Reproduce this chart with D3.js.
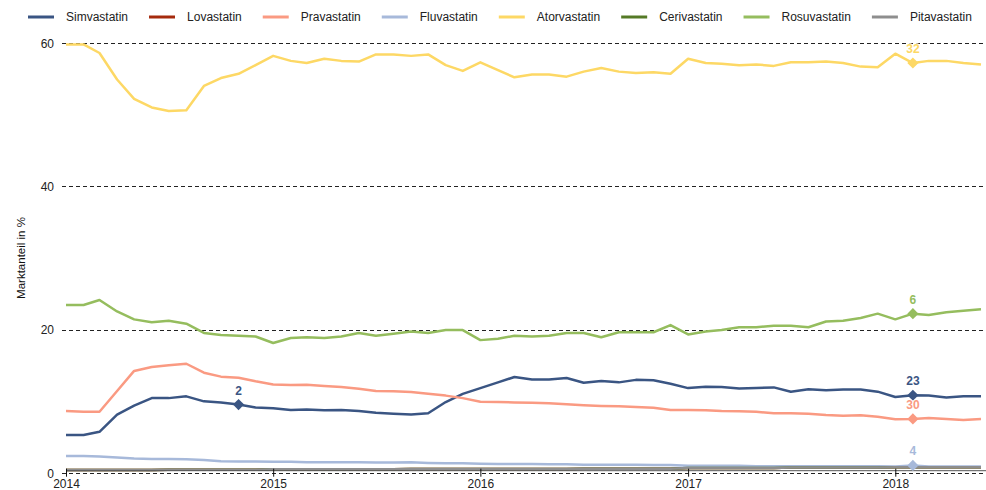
<!DOCTYPE html>
<html>
<head>
<meta charset="utf-8">
<script src="https://cdn.jsdelivr.net/npm/d3@7"></script>
<style>
  body { margin: 0; background: #fff; }
  text { font-family: "Liberation Sans", Arial, Helvetica, sans-serif; }
</style>
</head>
<body>
<svg id="chart" width="986" height="490"></svg>
<script>
// Monthly market share of statins (percent), Jan 2014 – Jun 2018
const months = d3.timeMonth.range(new Date(2014, 0, 1), new Date(2018, 6, 1));

const seriesNames = ["Simvastatin", "Lovastatin", "Pravastatin", "Fluvastatin",
                     "Atorvastatin", "Cerivastatin", "Rosuvastatin", "Pitavastatin"];
const seriesColors = ["#3a5583", "#a52a0d", "#fa9a82", "#a7b9da",
                      "#fdd865", "#557a26", "#95bd5e", "#8e8e8e"];

const simvastatin = [5.35, 5.35, 5.8, 8.2, 9.45, 10.5, 10.5, 10.75, 10.05, 9.9, 9.6, 9.2,
  9.1, 8.85, 8.9, 8.8, 8.85, 8.7, 8.47, 8.33, 8.2, 8.38, 9.95, 11.1,
  11.9, 12.7, 13.45, 13.1, 13.1, 13.3, 12.65, 12.9, 12.7, 13.05, 13.0, 12.5,
  11.9, 12.1, 12.05, 11.85, 11.9, 12.0, 11.4, 11.75, 11.6, 11.7, 11.7, 11.4,
  10.65, 10.9, 10.85, 10.6, 10.75, 10.75];
const lovastatin = [0.45, 0.45, 0.45, 0.45, 0.45, 0.45, 0.5, 0.5, 0.5, 0.5, 0.5, 0.5,
  0.55, 0.55, 0.55, 0.55, 0.55, 0.55, 0.55, 0.55, 0.6, 0.6, 0.6, 0.6,
  0.6, 0.6, 0.6, 0.6, 0.6, 0.6, 0.65, 0.65, 0.65, 0.65, 0.65, 0.65,
  0.75, 0.75, 0.75, 0.75, 0.75, 0.75, 0.8, 0.8, 0.8, 0.8, 0.8, 0.8,
  0.85, 0.85, 0.85, 0.85, 0.85, 0.85];
const pravastatin = [8.7, 8.6, 8.6, 11.5, 14.3, 14.85, 15.1, 15.3, 14.05, 13.5, 13.35, 12.85,
  12.4, 12.33, 12.37, 12.2, 12.05, 11.8, 11.5, 11.45, 11.35, 11.1, 10.85, 10.5,
  10.0, 9.96, 9.9, 9.86, 9.8, 9.63, 9.5, 9.4, 9.35, 9.26, 9.17, 8.84,
  8.84, 8.8, 8.7, 8.65, 8.6, 8.38, 8.38, 8.33, 8.15, 8.05, 8.1, 7.9,
  7.55, 7.6, 7.72, 7.6, 7.45, 7.6];
const fluvastatin = [2.4, 2.4, 2.35, 2.2, 2.05, 2.0, 2.0, 1.95, 1.85, 1.7, 1.65, 1.65,
  1.6, 1.6, 1.55, 1.55, 1.55, 1.55, 1.5, 1.5, 1.55, 1.45, 1.4, 1.4,
  1.35, 1.3, 1.3, 1.3, 1.25, 1.25, 1.2, 1.2, 1.2, 1.2, 1.15, 1.15,
  1.05, 1.05, 1.05, 1.05, 1.0, 1.0, 1.0, 1.0, 1.0, 1.0, 1.0, 1.0,
  0.95, 1.1, 0.95, 0.95, 0.95, 0.95];
const atorvastatin = [59.9, 59.9, 58.7, 55.0, 52.3, 51.1, 50.6, 50.7, 54.1, 55.2, 55.8, 57.0,
  58.3, 57.6, 57.3, 57.9, 57.6, 57.5, 58.5, 58.5, 58.3, 58.5, 57.0, 56.2,
  57.4, 56.3, 55.3, 55.7, 55.7, 55.4, 56.1, 56.6, 56.1, 55.9, 56.0, 55.8,
  57.9, 57.3, 57.2, 57.0, 57.1, 56.9, 57.4, 57.4, 57.5, 57.3, 56.8, 56.7,
  58.6, 57.3, 57.6, 57.6, 57.3, 57.1];
const cerivastatin = [0.45, 0.45, 0.45, 0.45, 0.45, 0.45, 0.5, 0.5, 0.5, 0.5, 0.5, 0.5,
  0.55, 0.55, 0.55, 0.55, 0.55, 0.55, 0.55, 0.55, 0.6, 0.6, 0.6, 0.6,
  0.6, 0.6, 0.6, 0.6, 0.6, 0.6, 0.65, 0.65, 0.65, 0.65, 0.65, 0.65,
  0.75, 0.75, 0.75, 0.75, 0.75, 0.75, 0.8, 0.8, 0.8, 0.8, 0.8, 0.8,
  0.85, 0.85, 0.85, 0.85, 0.85, 0.85];
const rosuvastatin = [23.5, 23.5, 24.2, 22.6, 21.5, 21.1, 21.3, 20.9, 19.6, 19.3, 19.2, 19.1,
  18.2, 18.9, 19.0, 18.9, 19.1, 19.6, 19.2, 19.5, 19.8, 19.6, 20.0, 20.0,
  18.6, 18.8, 19.2, 19.1, 19.2, 19.6, 19.6, 19.0, 19.7, 19.7, 19.7, 20.7,
  19.4, 19.8, 20.0, 20.4, 20.4, 20.6, 20.6, 20.4, 21.2, 21.3, 21.7, 22.3,
  21.5, 22.3, 22.1, 22.5, 22.7, 22.9];
const pitavastatin = [0.45, 0.45, 0.45, 0.45, 0.45, 0.45, 0.5, 0.5, 0.5, 0.5, 0.5, 0.5,
  0.55, 0.55, 0.55, 0.55, 0.55, 0.55, 0.55, 0.55, 0.6, 0.6, 0.6, 0.6,
  0.6, 0.6, 0.6, 0.6, 0.6, 0.6, 0.65, 0.65, 0.65, 0.65, 0.65, 0.65,
  0.75, 0.75, 0.75, 0.75, 0.75, 0.75, 0.8, 0.8, 0.8, 0.8, 0.8, 0.8,
  0.85, 0.85, 0.85, 0.85, 0.85, 0.85];

const seriesValues = [simvastatin, lovastatin, pravastatin, fluvastatin,
                      atorvastatin, cerivastatin, rosuvastatin, pitavastatin];

const yTicks = [0, 20, 40, 60];
const yearTicks = [2014, 2015, 2016, 2017, 2018];

// Highlighted data points with their annotation labels
const markerSeries = ["Simvastatin", "Atorvastatin", "Rosuvastatin", "Simvastatin", "Pravastatin", "Fluvastatin"];
const markerMonth  = [10, 49, 49, 49, 49, 49];
const markerLabels = ["2", "32", "6", "23", "30", "4"];

const yTitle = "Marktanteil in %";

// ---- drawing ----
const W = 986, H = 490;
const svg = d3.select("#chart");

const x = d3.scaleTime()
  .domain([months[0], months[months.length - 1]])
  .range([66, 981]);
const y = d3.scaleLinear().domain([0, 60]).range([473.3, 43.7]);

const gridLeft = 62, gridRight = W;

// dashed horizontal gridlines
const grid = svg.append("g");
grid.selectAll("line").data(yTicks).join("line")
  .attr("x1", gridLeft).attr("x2", gridRight)
  .attr("y1", d => y(d)).attr("y2", d => y(d))
  .attr("stroke", "#222").attr("stroke-width", 1)
  .attr("stroke-dasharray", "4,3")
  .attr("shape-rendering", "crispEdges");

// y tick labels
svg.append("g").selectAll("text").data(yTicks).join("text")
  .attr("x", 54).attr("y", d => y(d))
  .attr("dy", "0.35em")
  .attr("text-anchor", "end")
  .attr("font-size", 12).attr("fill", "#222")
  .text(d => d);

// y axis title
svg.append("text")
  .attr("transform", `translate(21,258) rotate(-90)`)
  .attr("text-anchor", "middle")
  .attr("dy", "0.35em")
  .attr("font-size", 11.5).attr("fill", "#111")
  .text(yTitle);

// series lines
const line = d3.line()
  .defined(d => d != null)
  .x((d, i) => x(months[i]))
  .y(d => y(d));

svg.append("g").selectAll("path").data(seriesValues).join("path")
  .attr("d", d => line(d))
  .attr("fill", "none")
  .attr("stroke", (d, i) => seriesColors[i])
  .attr("stroke-width", 2.5)
  .attr("stroke-linejoin", "round");

// x axis
const axisY = y(0) - 2.6;
const xAxis = d3.axisBottom(x)
  .tickValues(yearTicks.map(yr => new Date(yr, 0, 1)))
  .tickFormat(d3.timeFormat("%Y"))
  .tickSizeInner(6).tickSizeOuter(0).tickPadding(3);
const gx = svg.append("g").attr("transform", `translate(0,${axisY})`).call(xAxis);
gx.select(".domain").attr("stroke", "#555").attr("d", `M${x(months[0])},0H${gridRight}`);
gx.selectAll(".tick line").attr("stroke", "#111").attr("y1", -2);
gx.selectAll(".tick text").attr("font-size", 12).attr("fill", "#222")
  .attr("font-family", '"Liberation Sans", Arial, sans-serif');

// highlighted markers with labels
const markers = markerSeries.map((s, k) => {
  const si = seriesNames.indexOf(s);
  const mi = markerMonth[k];
  return { color: seriesColors[si], xv: x(months[mi]), yv: y(seriesValues[si][mi]), label: markerLabels[k] };
});
const mg = svg.append("g");
mg.selectAll("path").data(markers).join("path")
  .attr("d", d3.symbol(d3.symbolSquare, 62)())
  .attr("transform", d => `translate(${d.xv},${d.yv}) rotate(45)`)
  .attr("fill", d => d.color);
mg.selectAll("text").data(markers).join("text")
  .attr("x", d => d.xv).attr("y", d => d.yv - 10)
  .attr("text-anchor", "middle")
  .attr("font-size", 12).attr("font-weight", "bold")
  .attr("fill", d => d.color)
  .attr("stroke", "#fff").attr("stroke-width", 1.5).attr("paint-order", "stroke")
  .text(d => d.label);

// legend (horizontal flow)
const legend = svg.append("g");
let lx = 28;
seriesNames.forEach((name, i) => {
  const g = legend.append("g").attr("transform", `translate(${lx},17)`);
  g.append("line").attr("x1", 0).attr("x2", 26).attr("y1", 0).attr("y2", 0)
    .attr("stroke", seriesColors[i]).attr("stroke-width", 3);
  const t = g.append("text").attr("x", 38).attr("y", 0).attr("dy", "0.35em")
    .attr("font-size", 12).attr("fill", "#222").text(name);
  lx += 38 + t.node().getComputedTextLength() + 21;
});
</script>
</body>
</html>
